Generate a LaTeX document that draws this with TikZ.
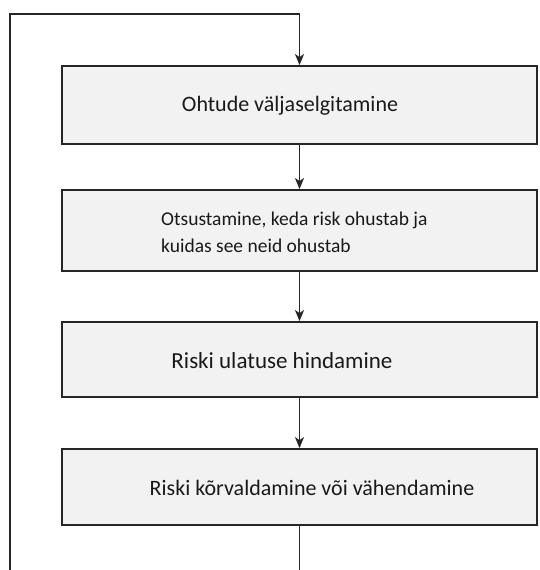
\documentclass[tikz,border=0pt]{standalone}
\usepackage{fontspec}
\setmainfont{Carlito}
\usetikzlibrary{arrows.meta,calc}
\begin{document}
\begin{tikzpicture}[x=1pt,y=-1pt,
  box/.style={draw=black!85,line width=1.8pt,fill=black!5,rectangle,
    minimum width=475pt,inner sep=0pt},
  lbl/.style={inner sep=0pt,text=black!90},
  arr/.style={draw=black!85,line width=1.4pt,-{Stealth[length=11pt,width=9pt,inset=3pt]}},
  ln/.style={draw=black!85,line width=1.4pt}]
\useasboundingbox (0,0) rectangle (539,570);
\node[box,minimum height=78pt] (b1) at (299.5,105) {};
\node[box,minimum height=81pt] (b2) at (299.5,230.5) {};
\node[box,minimum height=75pt] (b3) at (299.5,359.5) {};
\node[box,minimum height=76pt] (b4) at (299.5,487) {};
\node[lbl,font=\fontsize{22}{26}\selectfont] (t1) at (290,106) {Ohtude väljaselgitamine};
\node[lbl,font=\fontsize{19.5}{27}\selectfont,align=left,anchor=west] (t2) at (161,232) {Otsustamine, keda risk ohustab ja\\kuidas see neid ohustab};
\node[lbl,font=\fontsize{23}{27}\selectfont] (t3) at (282,361) {Riski ulatuse hindamine};
\node[lbl,font=\fontsize{22}{26}\selectfont] (t4) at (312,488) {Riski kõrvaldamine või vähendamine};
\coordinate (bot) at (299.5,570);
\coordinate (lb) at (10,570);
\coordinate (lt) at (10,14);
\draw[arr] (b1) -- (b2);
\draw[arr] (b2) -- (b3);
\draw[arr] (b3) -- (b4);
\draw[ln] (b4) -- (bot);
\draw[arr] (lb) -- (lt) -| (b1.north);
\end{tikzpicture}
\end{document}
